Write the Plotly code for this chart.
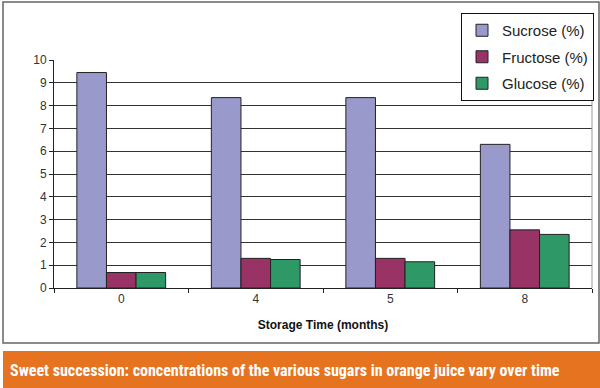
import plotly.graph_objects as go

categories = ["0", "4", "5", "8"]
sucrose = [9.45, 8.35, 8.35, 6.3]
fructose = [0.68, 1.3, 1.3, 2.55]
glucose = [0.68, 1.25, 1.15, 2.35]
series_names = ["Sucrose (%)", "Fructose (%)", "Glucose (%)"]
y_ticks = list(range(0, 11))
x_title = "Storage Time (months)"
caption = "Sweet succession: concentrations of the various sugars in orange juice vary over time"

colors = ["#9999CC", "#993366", "#2E9966"]

fig = go.Figure()
for name, vals, col in zip(series_names, [sucrose, fructose, glucose], colors):
    fig.add_trace(go.Bar(
        x=categories, y=vals, name=name, legendgroup=name,
        marker=dict(color=col, line=dict(color="#222222", width=1)),
    ))

L, R, T, B = 54, 8, 60, 100
W, H = 600, 388
pw = W - L - R
ph = H - T - B

def px_x(p):
    return (p - L) / pw

def px_y(p):
    return (H - B - p) / ph

fig.update_layout(
    width=W, height=H,
    margin=dict(l=L, r=R, t=T, b=B, autoexpand=False),
    paper_bgcolor="white", plot_bgcolor="white",
    barmode="group", bargap=0.34, bargroupgap=0,
    font=dict(family="Liberation Sans, Arial, sans-serif", color="#333333"),
    legend=dict(
        x=px_x(594), y=px_y(13), xanchor="right", yanchor="top",
        bgcolor="white", bordercolor="#111111", borderwidth=1,
        font=dict(size=15, color="#222222"),
        traceorder="grouped", tracegroupgap=4, itemwidth=30,
    ),
    xaxis=dict(
        type="category", showgrid=False, showline=True, linecolor="#222222",
        ticks="outside", tickson="boundaries", ticklen=4, tickcolor="#222222",
        tickfont=dict(size=12, color="#333333"),
        title=dict(text="<b>" + x_title + "</b>", font=dict(size=12, color="#111111"), standoff=15),
    ),
    yaxis=dict(
        range=[0, 10], tickvals=y_ticks, showgrid=True, gridcolor="#333333", gridwidth=1,
        showline=True, linecolor="#222222", ticks="outside", ticklen=4, tickcolor="#222222",
        tickfont=dict(size=12, color="#333333"), zeroline=False,
    ),
    shapes=[
        dict(type="rect", xref="paper", yref="paper",
             x0=px_x(3), x1=px_x(599), y0=px_y(343), y1=px_y(2),
             line=dict(color="#666666", width=1.5), layer="below"),
        dict(type="line", xref="paper", yref="paper",
             x0=1, x1=1, y0=0, y1=1, line=dict(color="#999999", width=1)),
        dict(type="rect", xref="paper", yref="paper",
             x0=px_x(3), x1=px_x(601), y0=px_y(389), y1=px_y(351),
             line=dict(width=0), fillcolor="#E5731F"),
    ],
    annotations=[
        dict(text="<b>" + caption + "</b>", xref="paper", yref="paper",
             x=px_x(8), y=px_y(370), xanchor="left", yanchor="middle",
             showarrow=False,
             font=dict(family="Liberation Sans Narrow, Roboto Condensed, Liberation Sans, sans-serif",
                       size=16, color="white")),
    ],
)

fig.write_html("out.html", config={"displayModeBar": False},
               post_script="document.body.style.margin='0';document.body.style.overflow='hidden';")
